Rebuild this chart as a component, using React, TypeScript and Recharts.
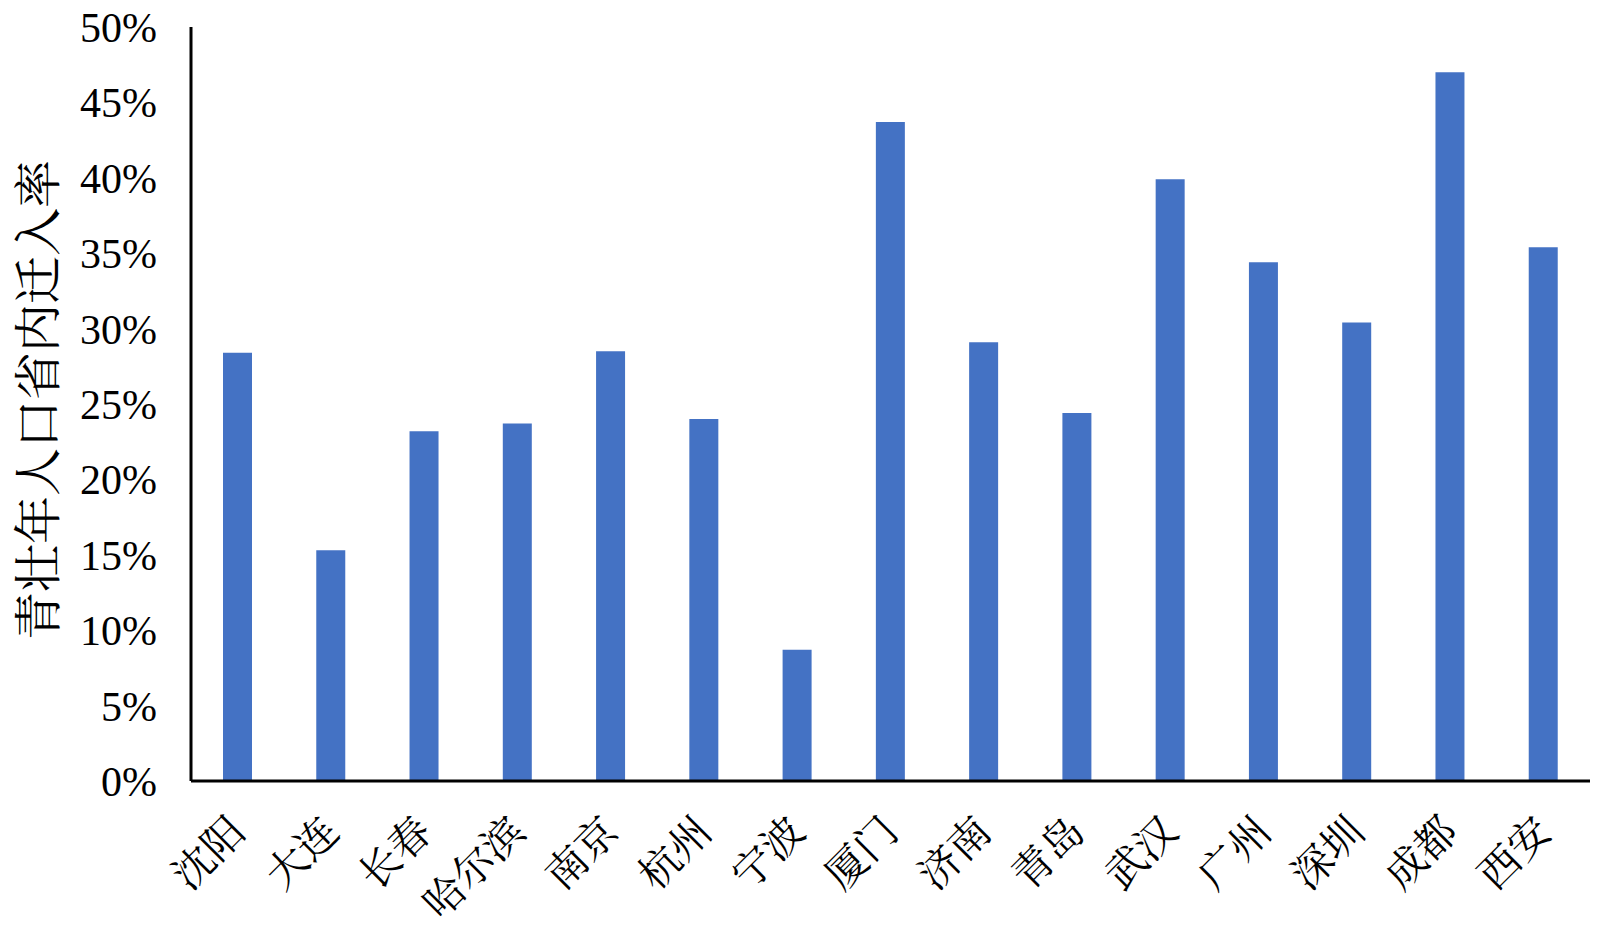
import React from 'react';
import { BarChart, Bar, XAxis, YAxis } from 'recharts';

const cities = ['沈阳', '大连', '长春', '哈尔滨', '南京', '杭州', '宁波', '厦门', '济南', '青岛', '武汉', '广州', '深圳', '成都', '西安'];
const rates = [28.4, 15.3, 23.2, 23.7, 28.5, 24.0, 8.7, 43.7, 29.1, 24.4, 39.9, 34.4, 30.4, 47.0, 35.4];
const yTicks = [0, 5, 10, 15, 20, 25, 30, 35, 40, 45, 50];
const yTitle = '青壮年人口省内迁入率';

const data = cities.map((c, i) => ({ city: c, rate: rates[i] }));

const numFont = '"Liberation Serif", "Times New Roman", serif';
const cjkFont = '"Noto Serif CJK SC", "Noto Sans CJK SC", serif';

const XTick = (props: any) => {
  const { x, y, payload } = props;
  return (
    <g transform={`translate(${x + 10},${y + 45})`}>
      <text
        x={0}
        y={0}
        textAnchor="end"
        transform="rotate(-45)"
        fill="#000"
        fontSize={41}
        fontFamily={cjkFont}
      >
        {payload.value}
      </text>
    </g>
  );
};

const YTitle = (props: any) => {
  const vb = props.viewBox || {};
  const cx = 34;
  const cy = (vb.y ?? 27) + (vb.height ?? 754) / 2 - 4;
  return (
    <text
      x={cx}
      y={cy}
      textAnchor="middle"
      dominantBaseline="central"
      transform={`rotate(-90, ${cx}, ${cy})`}
      fill="#000"
      fontSize={48}
      fontFamily={cjkFont}
    >
      {yTitle}
    </text>
  );
};

export default function App() {
  return (
    <div style={{ position: 'absolute', left: 0, top: 0, width: 1600, height: 936, background: '#fff' }}>
      <BarChart
        width={1600}
        height={936}
        data={data}
        margin={{ top: 27, right: 10, bottom: 0, left: 0 }}
        barSize={29}
      >
        <XAxis
          dataKey="city"
          interval={0}
          height={155}
          tickLine={false}
          axisLine={{ stroke: '#000', strokeWidth: 3 }}
          tick={<XTick />}
        />
        <YAxis
          width={191}
          domain={[0, 50]}
          ticks={yTicks}
          interval={0}
          tickLine={false}
          tickSize={0}
          tickMargin={34}
          axisLine={{ stroke: '#000', strokeWidth: 3 }}
          tickFormatter={(v: number) => `${v}%`}
          tick={{ fill: '#000', fontSize: 42, fontFamily: numFont }}
          label={<YTitle />}
        />
        <Bar dataKey="rate" fill="#4472C4" isAnimationActive={false} />
      </BarChart>
    </div>
  );
}
